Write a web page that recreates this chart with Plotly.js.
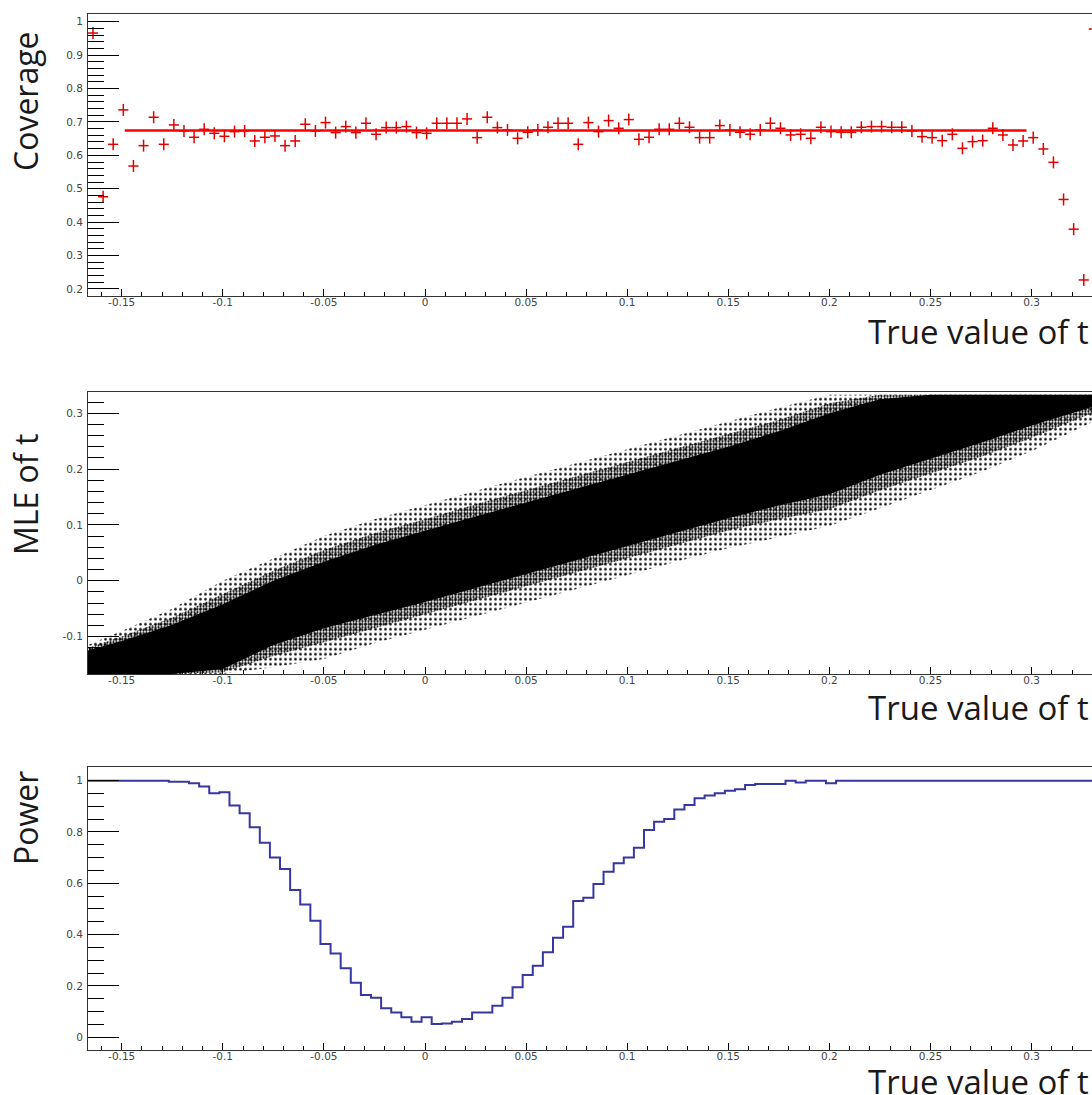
<!DOCTYPE html>
<html>
<head>
<meta charset="utf-8">
<script src="https://cdn.plot.ly/plotly-3.0.1.min.js"></script>
<style>
  html, body { margin: 0; padding: 0; background: #fff; overflow: hidden; }
  #chart { width: 1100px; height: 1095px; }
</style>
</head>
<body>
<div id="chart"></div>
<script>
// ---------- data ----------
// bin centres of the 100-bin scan over the true value of t
const binCenters = [
  -0.1642,-0.1592,-0.1542,-0.1492,-0.1442,-0.1392,-0.1342,-0.1292,-0.1242,-0.1192,
  -0.1142,-0.1092,-0.1042,-0.0992,-0.0942,-0.0892,-0.0842,-0.0792,-0.0742,-0.0692,
  -0.0642,-0.0592,-0.0542,-0.0492,-0.0442,-0.0392,-0.0342,-0.0292,-0.0242,-0.0192,
  -0.0142,-0.0092,-0.0042,0.0008,0.0058,0.0108,0.0158,0.0208,0.0258,0.0308,
  0.0358,0.0408,0.0458,0.0508,0.0558,0.0608,0.0658,0.0708,0.0758,0.0808,
  0.0858,0.0908,0.0958,0.1008,0.1058,0.1108,0.1158,0.1208,0.1258,0.1308,
  0.1358,0.1408,0.1458,0.1508,0.1558,0.1608,0.1658,0.1708,0.1758,0.1808,
  0.1858,0.1908,0.1958,0.2008,0.2058,0.2108,0.2158,0.2208,0.2258,0.2308,
  0.2358,0.2408,0.2458,0.2508,0.2558,0.2608,0.2658,0.2708,0.2758,0.2808,
  0.2858,0.2908,0.2958,0.3008,0.3058,0.3108,0.3158,0.3208,0.3258,0.3308
];
const binHalfWidth = 0.0025;

// coverage per bin
const coverage = [
  0.966,0.476,0.633,0.736,0.568,0.629,0.714,0.633,0.691,0.673,
  0.654,0.678,0.666,0.657,0.671,0.673,0.643,0.654,0.658,0.629,
  0.643,0.693,0.673,0.698,0.668,0.686,0.668,0.696,0.663,0.683,
  0.683,0.686,0.668,0.666,0.696,0.696,0.696,0.709,0.653,0.714,
  0.683,0.676,0.651,0.669,0.676,0.684,0.696,0.696,0.633,0.698,
  0.671,0.704,0.681,0.707,0.648,0.654,0.678,0.678,0.696,0.684,
  0.653,0.653,0.689,0.676,0.669,0.663,0.676,0.696,0.681,0.661,
  0.663,0.651,0.684,0.671,0.669,0.669,0.684,0.686,0.686,0.684,
  0.684,0.673,0.656,0.653,0.644,0.663,0.621,0.641,0.644,0.681,
  0.661,0.631,0.643,0.653,0.619,0.579,0.468,0.379,0.227,0.978
];
const coverageErr = 0.018;

// constant fit to the coverage
const fitX = [-0.1485, 0.2975];
const fitY = [0.674, 0.674];

// power per bin
const power = [
  1,1,1,1,1,1,1,1,0.996,0.996,
  0.990,0.977,0.951,0.955,0.903,0.873,0.818,0.758,0.701,0.656,
  0.574,0.517,0.454,0.364,0.327,0.269,0.213,0.165,0.154,0.113,
  0.097,0.078,0.061,0.078,0.052,0.054,0.061,0.071,0.097,0.097,
  0.123,0.154,0.195,0.243,0.279,0.331,0.388,0.431,0.531,0.544,
  0.597,0.645,0.678,0.701,0.739,0.808,0.840,0.851,0.888,0.905,
  0.931,0.942,0.951,0.961,0.967,0.983,0.987,0.987,0.987,1.000,
  0.993,1,1,0.990,1,1,1,1,1,1,
  1,1,1,1,1,1,1,1,1,1,
  1,1,1,1,1,1,1,1,1,1
];

// MLE of t vs true t : extent of the point cloud
const cloudX         = [-0.1667,-0.15,-0.125,-0.1,-0.075,-0.05,-0.025,0,0.025,0.05,0.075,0.1,0.125,0.15,0.175,0.2,0.225,0.25,0.275,0.3,0.3333];
const cloudCoreTop   = [-0.125,-0.108,-0.079,-0.042,0.000,0.034,0.064,0.090,0.115,0.140,0.165,0.190,0.215,0.240,0.268,0.300,0.325,0.333,0.333,0.333,0.333];
const cloudCoreBot   = [-0.167,-0.167,-0.167,-0.158,-0.115,-0.085,-0.062,-0.038,-0.013,0.012,0.037,0.062,0.087,0.112,0.135,0.155,0.190,0.218,0.247,0.278,0.315];
const cloudDenseTop  = [-0.120,-0.100,-0.066,-0.024,0.018,0.055,0.085,0.110,0.137,0.162,0.187,0.212,0.237,0.262,0.288,0.318,0.333,0.333,0.333,0.333,0.333];
const cloudDenseBot  = [-0.167,-0.167,-0.167,-0.164,-0.135,-0.110,-0.085,-0.060,-0.035,-0.010,0.015,0.040,0.065,0.090,0.110,0.128,0.162,0.192,0.222,0.256,0.305];
const cloudHaloTop   = [-0.115,-0.090,-0.050,0.000,0.040,0.080,0.110,0.136,0.161,0.186,0.211,0.236,0.261,0.286,0.310,0.333,0.333,0.333,0.333,0.333,0.333];
const cloudHaloBot   = [-0.167,-0.167,-0.167,-0.167,-0.155,-0.140,-0.112,-0.088,-0.063,-0.040,-0.015,0.010,0.035,0.058,0.078,0.098,0.130,0.162,0.195,0.232,0.290];

// tick labels
const xTickVals = [-0.15,-0.1,-0.05,0,0.05,0.1,0.15,0.2,0.25,0.3];
const xTickText = ["-0.15","-0.1","-0.05","0","0.05","0.1","0.15","0.2","0.25","0.3"];
const y1TickVals = [0.2,0.3,0.4,0.5,0.6,0.7,0.8,0.9,1];
const y1TickText = ["0.2","0.3","0.4","0.5","0.6","0.7","0.8","0.9","1"];
const y2TickVals = [-0.1,0,0.1,0.2,0.3];
const y2TickText = ["-0.1","0","0.1","0.2","0.3"];
const y3TickVals = [0,0.2,0.4,0.6,0.8,1];
const y3TickText = ["0","0.2","0.4","0.6","0.8","1"];

const xTitle = "True value of t";
const yTitles = ["Coverage", "MLE of t", "Power"];

// ---------- traces ----------
const red = "rgb(225,0,0)";
const traces = [];

traces.push({
  type: "scatter", mode: "markers", x: binCenters, y: coverage,
  xaxis: "x", yaxis: "y",
  marker: { size: 1, color: red },
  error_x: { type: "constant", value: binHalfWidth, width: 0, thickness: 1.5, color: red },
  error_y: { type: "constant", value: coverageErr, width: 0, thickness: 1.5, color: red },
  hoverinfo: "x+y", showlegend: false
});
traces.push({
  type: "scatter", mode: "lines", x: fitX, y: fitY, xaxis: "x", yaxis: "y",
  line: { color: "rgb(255,0,0)", width: 2.5 }, showlegend: false
});

function bandPair(lo, hi, fillOpts) {
  traces.push({ type: "scatter", mode: "lines", x: cloudX, y: lo, xaxis: "x2", yaxis: "y2",
    line: { width: 0 }, hoverinfo: "skip", showlegend: false });
  traces.push(Object.assign({ type: "scatter", mode: "lines", x: cloudX, y: hi, xaxis: "x2", yaxis: "y2",
    line: { width: 0 }, fill: "tonexty", hoverinfo: "skip", showlegend: false }, fillOpts));
}
// sparse outer points
bandPair(cloudHaloBot, cloudHaloTop, { fillcolor: "rgba(0,0,0,0)",
  fillpattern: { shape: ".", size: 5, solidity: 0.22, fgcolor: "#000", bgcolor: "rgba(255,255,255,0)" } });
// denser points next to the core
bandPair(cloudDenseBot, cloudDenseTop, { fillcolor: "rgba(0,0,0,0)",
  fillpattern: { shape: ".", size: 3, solidity: 0.45, fgcolor: "#000", bgcolor: "rgba(255,255,255,0)" } });
// saturated core
bandPair(cloudCoreBot, cloudCoreTop, { fillcolor: "#000" });

// power histogram drawn as steps between bin edges
const edges = binCenters.map(c => c - binHalfWidth).concat([binCenters[binCenters.length - 1] + binHalfWidth]);
const powerSteps = power.concat([power[power.length - 1]]);
traces.push({
  type: "scatter", mode: "lines", x: edges, y: powerSteps, xaxis: "x3", yaxis: "y3",
  line: { shape: "hv", color: "rgb(55,55,160)", width: 2 }, showlegend: false
});

// ---------- layout ----------
const tickFont = { family: "DejaVu Sans, sans-serif", size: 10.5, color: "#444" };
function xAxis(anchor) {
  return {
    anchor: anchor, domain: [0, 1], range: [-1/6, 1/3],
    tickmode: "array", tickvals: xTickVals, ticktext: xTickText,
    ticks: "inside", ticklen: 7, tickwidth: 1, tickcolor: "#000",
    minor: { ticks: "inside", ticklen: 4, tickwidth: 1, tickcolor: "#000", tick0: 0, dtick: 0.01 },
    showline: true, linecolor: "#333", linewidth: 1, mirror: true,
    showgrid: false, zeroline: false, tickfont: tickFont, ticklabelstandoff: -4, fixedrange: true
  };
}
function yAxis(anchor, domain, range, vals, text, minorStep) {
  return {
    anchor: anchor, domain: domain, range: range,
    tickmode: "array", tickvals: vals, ticktext: text,
    ticks: "inside", ticklen: 31, tickwidth: 1, tickcolor: "#000",
    minor: { ticks: "inside", ticklen: 16, tickwidth: 1, tickcolor: "#000", tick0: 0, dtick: minorStep },
    showline: true, linecolor: "#333", linewidth: 1, mirror: true,
    showgrid: false, zeroline: false, tickfont: tickFont, ticklabelstandoff: 2, fixedrange: true
  };
}

const titleFont = { family: "Open Sans, sans-serif", size: 33, color: "#1a1a1a" };
const H = 1095, L = 88, PW = 1011;
const px2x = p => (p - L) / PW;
const py2y = p => 1 - p / H;

const annotations = [];
[332, 707, 1081].forEach(py => annotations.push({
  text: xTitle, xref: "paper", yref: "paper", x: px2x(1091), y: py2y(py),
  xanchor: "right", yanchor: "middle", showarrow: false, font: titleFont
}));
[[yTitles[0], 101], [yTitles[1], 495], [yTitles[2], 818]].forEach(([t, py]) => annotations.push({
  text: t, xref: "paper", yref: "paper", x: px2x(25), y: py2y(py),
  xanchor: "center", yanchor: "middle", textangle: -90, showarrow: false,
  font: Object.assign({}, titleFont, { size: 32 })
}));

const layout = {
  width: 1100, height: H,
  margin: { l: L, r: 1, t: 0, b: 0 },
  paper_bgcolor: "#fff", plot_bgcolor: "#fff",
  showlegend: false,
  xaxis: xAxis("y"),
  yaxis: yAxis("x", [0.72968, 0.98721], [0.179, 1.023], y1TickVals, y1TickText, 0.02),
  xaxis2: xAxis("y2"),
  yaxis2: yAxis("x2", [0.3845, 0.6423], [-0.167, 0.3387], y2TickVals, y2TickText, 0.02),
  xaxis3: xAxis("y3"),
  yaxis3: yAxis("x3", [0.0411, 0.2993], [-0.0495, 1.0522], y3TickVals, y3TickText, 0.05),
  annotations: annotations
};

Plotly.newPlot("chart", traces, layout, { staticPlot: true, displayModeBar: false });
</script>
</body>
</html>
